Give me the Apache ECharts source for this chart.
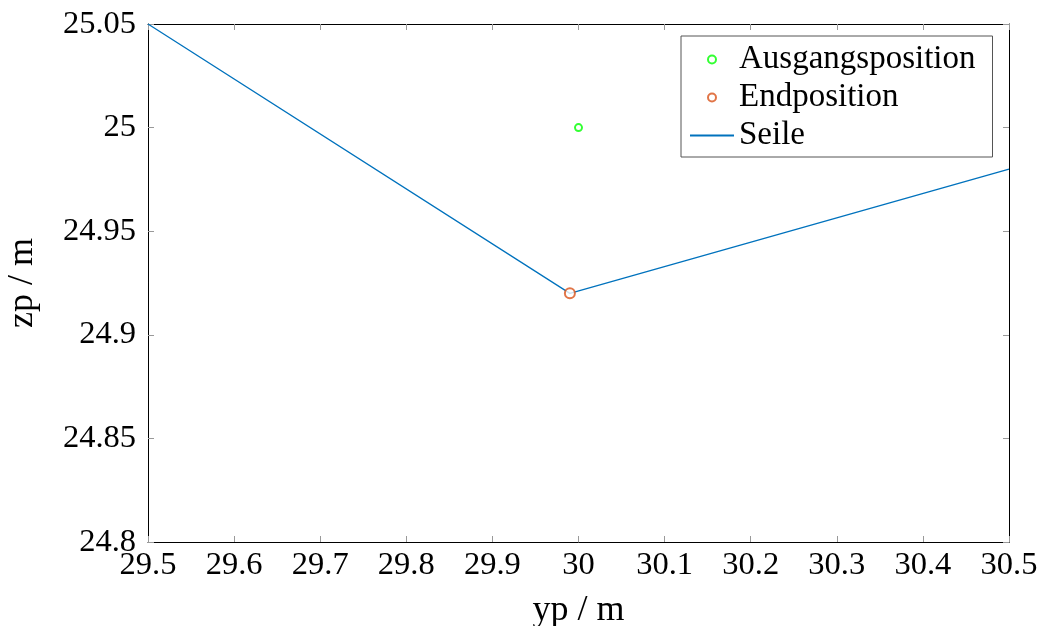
<!DOCTYPE html>
<html><head><meta charset="utf-8">
<script src="https://cdn.jsdelivr.net/npm/echarts@6/dist/echarts.min.js"></script>
<style>html,body{margin:0;padding:0;background:#fff}#c{width:1040px;height:626px}</style>
</head><body><div id="c"></div>
<script>
const xTicks = [29.5, 29.6, 29.7, 29.8, 29.9, 30, 30.1, 30.2, 30.3, 30.4, 30.5];
const yTicks = [24.8, 24.85, 24.9, 24.95, 25, 25.05];
const startPos = [[30.0, 25.0]];
const endPos = [[29.99, 24.92]];
const ropeY = [29.5, 29.99, 30.5];
const ropeZ = [25.05, 24.92, 24.98];
const seriesNames = ['Ausgangsposition', 'Endposition', 'Seile'];

const FONT = 'Liberation Serif';
const ropeData = ropeY.map((y, i) => [y, ropeZ[i]]);
const tickStyle = {show: true, inside: true, length: 6, lineStyle: {color: '#999', width: 1}};
const chart = echarts.init(document.getElementById('c'));
chart.setOption({
  animation: false,
  textStyle: {fontFamily: FONT, color: '#000'},
  grid: {left: 148, right: 31, top: 24, bottom: 84, outerBoundsMode: 'none', containLabel: false},
  legend: {
    orient: 'vertical', left: 681, top: 36,
    padding: [7, 17, 5, 8], itemGap: 5,
    itemWidth: 44, itemHeight: 8,
    borderColor: '#555', borderWidth: 1, backgroundColor: '#fff',
    textStyle: {fontFamily: FONT, fontSize: 33, color: '#000'},
    data: [
      {name: seriesNames[0], icon: 'emptyCircle'},
      {name: seriesNames[1], icon: 'emptyCircle'},
      {name: seriesNames[2], itemStyle: {opacity: 0}}
    ]
  },
  xAxis: [{
    type: 'value', min: 29.5, max: 30.5, interval: 0.1,
    name: 'yp / m', nameLocation: 'middle', nameGap: 51,
    nameTextStyle: {fontFamily: FONT, fontSize: 36, color: '#000'},
    axisLine: {show: true, onZero: false, lineStyle: {color: '#000', width: 1}},
    axisTick: tickStyle, splitLine: {show: false},
    axisLabel: {fontFamily: FONT, fontSize: 32.5, color: '#000', margin: 7,
      formatter: v => String(+v.toFixed(2))}
  }, {
    type: 'value', min: 29.5, max: 30.5, interval: 0.1, position: 'top',
    axisLine: {show: true, onZero: false, lineStyle: {color: '#000', width: 1}},
    axisTick: tickStyle, axisLabel: {show: false}, splitLine: {show: false}
  }],
  yAxis: [{
    type: 'value', min: 24.8, max: 25.05, interval: 0.05,
    name: 'zp / m', nameLocation: 'middle', nameGap: 107, nameRotate: 90,
    nameTextStyle: {fontFamily: FONT, fontSize: 36, color: '#000'},
    axisLine: {show: true, onZero: false, lineStyle: {color: '#000', width: 1}},
    axisTick: tickStyle, splitLine: {show: false},
    axisLabel: {fontFamily: FONT, fontSize: 32.5, color: '#000', margin: 12,
      formatter: v => String(+v.toFixed(2))}
  }, {
    type: 'value', min: 24.8, max: 25.05, interval: 0.05, position: 'right',
    axisLine: {show: true, onZero: false, lineStyle: {color: '#000', width: 1}},
    axisTick: tickStyle, axisLabel: {show: false}, splitLine: {show: false}
  }],
  series: [{
    name: seriesNames[0], type: 'scatter', data: startPos,
    symbol: 'emptyCircle', symbolSize: 7,
    itemStyle: {color: '#00ff00', borderColor: '#00ff00', borderWidth: 1.3}
  }, {
    name: seriesNames[1], type: 'scatter', data: endPos,
    symbol: 'emptyCircle', symbolSize: 10,
    itemStyle: {color: '#d95319', borderColor: '#d95319', borderWidth: 1.3}, z: 3
  }, {
    name: seriesNames[2], type: 'line', data: ropeData,
    symbol: 'none', lineStyle: {color: '#0072bd', width: 1.3},
    itemStyle: {color: '#0072bd'}, z: 2
  }]
});
</script></body></html>
